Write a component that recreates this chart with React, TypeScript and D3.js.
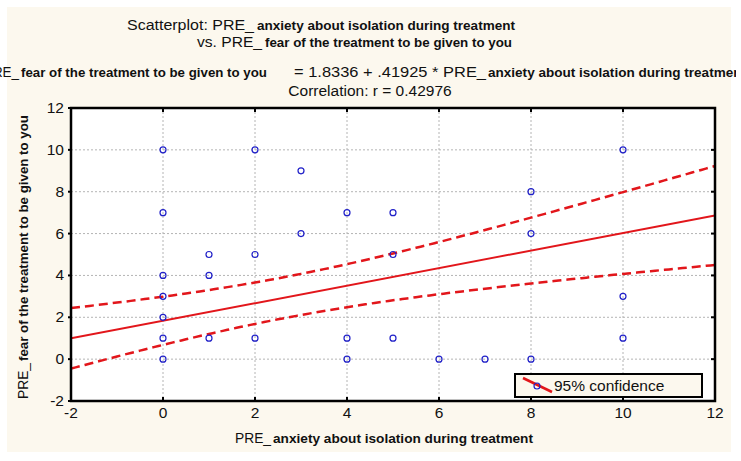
import React from "react";
import * as d3 from "d3";

// ---- data ----
const xValues = [0, 0, 0, 0, 0, 0, 0, 1, 1, 1, 2, 2, 2, 3, 3, 4, 4, 4, 5, 5, 5, 6, 7, 8, 8, 8, 10, 10, 10];
const yValues = [10, 7, 4, 3, 2, 1, 0, 5, 4, 1, 10, 5, 1, 9, 6, 7, 1, 0, 7, 5, 1, 0, 0, 8, 6, 0, 10, 3, 1];
const xTicks = [-2, 0, 2, 4, 6, 8, 10, 12];
const yTicks = [-2, 0, 2, 4, 6, 8, 10, 12];

const INTERCEPT = 1.8336;
const SLOPE = 0.41925;
const R_VALUE = "0.42976";
// regression statistics for the 95% confidence band
const N_OBS = 40;
const X_MEAN = 2.64;
const SXX = 726;
const RESID_SE = 3.06;
const T_CRIT = 2.024;

const titleLine1 = ["Scatterplot: PRE_", "anxiety about isolation during treatment"];
const titleLine2 = ["vs. PRE_", "fear of the treatment to be given to you"];
const eqText = ["PRE_", "fear of the treatment to be given to you", "= 1.8336 + .41925 * PRE_", "anxiety about isolation during treatment"];
const corrText = "Correlation: r = " + R_VALUE;
const xLabel = ["PRE_", "anxiety about isolation during treatment"];
const yLabel = ["PRE_", "fear of the treatment to be given to you"];
const legendText = "95% confidence";

const W = 741;
const H = 461;
const M = { left: 71, right: 715, top: 108, bottom: 401 };
const FONT = "'Liberation Sans', Arial, sans-serif";
const RED = "#e2161b";
const BLUE = "#2020c8";
const CREAM = "#fcf8ee";
const TXT = "#111";

export default function App() {
  const x = d3.scaleLinear().domain([-2, 12]).range([M.left, M.right]);
  const y = d3.scaleLinear().domain([-2, 12]).range([M.bottom, M.top]);

  const fit = (v: number) => INTERCEPT + SLOPE * v;
  const hw = (v: number) => T_CRIT * RESID_SE * Math.sqrt(1 / N_OBS + ((v - X_MEAN) ** 2) / SXX);
  const xs = d3.range(-2, 12.001, 0.1);
  const line = d3.line<number[]>().x((d) => x(d[0])).y((d) => y(d[1]));
  const fitPath = line([[-2, fit(-2)], [12, fit(12)]]) || "";
  const upperPath = line(xs.map((v) => [v, fit(v) + hw(v)])) || "";
  const lowerPath = line(xs.map((v) => [v, fit(v) - hw(v)])) || "";

  return (
    <div style={{ position: "absolute", left: 0, top: 0, width: W, height: H, background: "#fff" }}>
      <svg width={W} height={H} style={{ display: "block" }} fontFamily={FONT}>
        <defs>
          <clipPath id="plotclip">
            <rect x={M.left} y={M.top} width={M.right - M.left} height={M.bottom - M.top} />
          </clipPath>
          <clipPath id="eqclip">
            <rect x={0} y={0} width={736} height={H} />
          </clipPath>
        </defs>
        <rect x={7} y={7} width={724} height={445} fill={CREAM} />

        {/* titles */}
        <g fill={TXT}>
          <text x={127} y={30} fontSize={15.5} textLength={127} lengthAdjust="spacingAndGlyphs">{titleLine1[0]}</text>
          <text x={257} y={30} fontSize={13.5} fontWeight="bold" textLength={258} lengthAdjust="spacingAndGlyphs">{titleLine1[1]}</text>
          <text x={197} y={47} fontSize={15.5} textLength={65} lengthAdjust="spacingAndGlyphs">{titleLine2[0]}</text>
          <text x={265} y={47} fontSize={13.5} fontWeight="bold" textLength={247} lengthAdjust="spacingAndGlyphs">{titleLine2[1]}</text>
          <g clipPath="url(#eqclip)">
            <text x={-16} y={77} fontSize={15.5} textLength={35} lengthAdjust="spacingAndGlyphs">{eqText[0]}</text>
            <text x={21} y={77} fontSize={13.5} fontWeight="bold" textLength={246} lengthAdjust="spacingAndGlyphs">{eqText[1]}</text>
            <text x={294} y={77} fontSize={15.5} textLength={192} lengthAdjust="spacingAndGlyphs">{eqText[2]}</text>
            <text x={488} y={77} fontSize={13.5} fontWeight="bold" textLength={258} lengthAdjust="spacingAndGlyphs">{eqText[3]}</text>
          </g>
          <text x={370} y={96} fontSize={15.5} textAnchor="middle">{corrText}</text>
        </g>

        {/* plot area */}
        <rect x={M.left} y={M.top} width={M.right - M.left} height={M.bottom - M.top} fill="#fff" />
        <g stroke="#b4b4b4" strokeWidth={1} strokeDasharray="2,2">
          {xTicks.slice(1, -1).map((t) => (
            <line key={"gx" + t} x1={x(t)} x2={x(t)} y1={M.top} y2={M.bottom} />
          ))}
          {yTicks.slice(1, -1).map((t) => (
            <line key={"gy" + t} x1={M.left} x2={M.right} y1={y(t)} y2={y(t)} />
          ))}
        </g>

        <g clipPath="url(#plotclip)" fill="none">
          <path d={upperPath} stroke={RED} strokeWidth={2.5} strokeDasharray="9,5" />
          <path d={lowerPath} stroke={RED} strokeWidth={2.5} strokeDasharray="9,5" />
          <path d={fitPath} stroke={RED} strokeWidth={2} />
        </g>

        <g fill="none" stroke={BLUE} strokeWidth={1.2}>
          {xValues.map((v, i) => (
            <circle key={i} cx={x(v)} cy={y(yValues[i])} r={3} />
          ))}
        </g>

        {/* ticks */}
        <g stroke="#000" strokeWidth={2}>
          {xTicks.map((t) => (
            <g key={"tx" + t}>
              <line x1={x(t)} x2={x(t)} y1={M.bottom} y2={M.bottom - 4} />
              <line x1={x(t)} x2={x(t)} y1={M.top} y2={M.top + 4} />
            </g>
          ))}
          {yTicks.map((t) => (
            <g key={"ty" + t}>
              <line x1={M.left} x2={M.left - 3} y1={y(t)} y2={y(t)} />
              <line x1={M.right} x2={M.right - 4} y1={y(t)} y2={y(t)} />
            </g>
          ))}
        </g>
        <rect x={M.left} y={M.top} width={M.right - M.left} height={M.bottom - M.top} fill="none" stroke="#000" strokeWidth={2.5} />

        {/* tick labels */}
        <g fontSize={15.5} fill={TXT}>
          {xTicks.map((t) => (
            <text key={"lx" + t} x={x(t)} y={M.bottom + 17} textAnchor="middle">{t}</text>
          ))}
          {yTicks.map((t) => (
            <text key={"ly" + t} x={M.left - 7} y={y(t) + 5} textAnchor="end">{t}</text>
          ))}
        </g>

        {/* axis labels */}
        <text x={235} y={443} fontSize={15.5} fill={TXT} textLength={36} lengthAdjust="spacingAndGlyphs">{xLabel[0]}</text>
        <text x={273} y={443} fontSize={13.5} fontWeight="bold" fill={TXT} textLength={260} lengthAdjust="spacingAndGlyphs">{xLabel[1]}</text>
        <g transform="translate(28,399) rotate(-90)" fill={TXT}>
          <text x={0} y={0} fontSize={15.5} textLength={36} lengthAdjust="spacingAndGlyphs">{yLabel[0]}</text>
          <text x={38} y={0} fontSize={13.5} fontWeight="bold" textLength={246} lengthAdjust="spacingAndGlyphs">{yLabel[1]}</text>
        </g>

        {/* legend */}
        <rect x={515} y={374} width={187} height={23} fill={CREAM} stroke="#000" strokeWidth={2} />
        <line x1={523} y1={378} x2={552} y2={392} stroke={RED} strokeWidth={2.5} />
        <circle cx={537} cy={386} r={3} fill="none" stroke={BLUE} strokeWidth={1.2} />
        <text x={554} y={391} fontSize={15.5} fill={TXT}>{legendText}</text>
      </svg>
    </div>
  );
}
